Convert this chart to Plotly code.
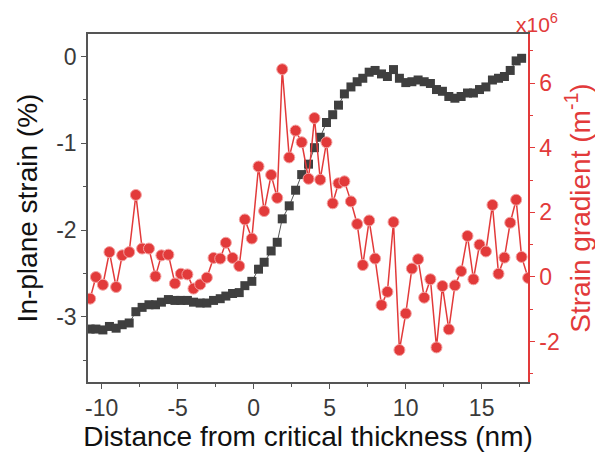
import plotly.graph_objects as go

# Distance from critical thickness (nm)
x_nm = [-10.76, -10.38, -9.92, -9.49, -9.05, -8.65, -8.19, -7.75, -7.34, -6.89,
        -6.46, -6.07, -5.61, -5.18, -4.79, -4.36, -3.96, -3.52, -3.08, -2.64,
        -2.20, -1.83, -1.39, -0.95, -0.58, -0.12, 0.32, 0.69, 1.15, 1.55,
        1.88, 2.34, 2.76, 3.16, 3.61, 4.00, 4.38, 4.79, 5.20, 5.58,
        5.97, 6.40, 6.81, 7.18, 7.60, 7.99, 8.41, 8.80, 9.20, 9.59,
        10.01, 10.41, 10.82, 11.22, 11.63, 12.03, 12.42, 12.84, 13.24, 13.65,
        14.07, 14.46, 14.86, 15.28, 15.71, 16.11, 16.50, 16.88, 17.27, 17.63,
        18.06]

# In-plane strain (%)
strain = [-3.14, -3.14, -3.15, -3.11, -3.13, -3.09, -3.07, -2.94, -2.89, -2.86,
          -2.86, -2.83, -2.80, -2.81, -2.81, -2.81, -2.83, -2.84, -2.84, -2.81,
          -2.79, -2.76, -2.73, -2.72, -2.64, -2.59, -2.45, -2.37, -2.24, -2.14,
          -1.87, -1.72, -1.54, -1.36, -1.24, -1.05, -0.93, -0.76, -0.67, -0.56,
          -0.43, -0.35, -0.29, -0.25, -0.18, -0.16, -0.20, -0.23, -0.15, -0.25,
          -0.30, -0.29, -0.27, -0.29, -0.31, -0.38, -0.40, -0.46, -0.48, -0.46,
          -0.42, -0.42, -0.38, -0.35, -0.27, -0.25, -0.23, -0.16, -0.05, -0.02]

# Strain gradient (x10^6 m^-1)
gradient = [-0.67, 0.00, -0.24, 0.77, -0.31, 0.67, 0.77, 2.54, 0.88, 0.88,
            0.02, 0.67, 0.69, -0.20, 0.10, 0.08, -0.36, -0.23, -0.02, 0.59,
            0.57, 1.06, 0.59, 0.34, 1.78, 1.19, 3.42, 2.04, 3.16, 2.45,
            6.43, 3.70, 4.53, 4.17, 3.04, 4.92, 3.01, 4.17, 2.28, 2.90,
            2.96, 2.34, 1.64, 0.37, 1.75, 0.57, -0.87, -0.46, 1.70, -2.26,
            -1.13, 0.26, 0.55, -0.64, -0.07, -2.18, -0.28, -1.62, -0.26, 0.18,
            1.27, -0.07, 1.00, 0.79, 2.23, 0.10, 0.60, 1.68, 2.39, 0.62,
            -0.03]

# tick values and labels
x_ticks = [-10, -5, 0, 5, 10, 15]
x_labels = ["-10", "-5", "0", "5", "10", "15"]
y_ticks = [-3, -2, -1, 0]
y_labels = ["-3", "-2", "-1", "0"]
y2_ticks = [-2, 0, 2, 4, 6]
y2_labels = ["-2", "0", "2", "4", "6"]

RED = "#e23a3a"
GRAY = "#3f3f3f"
AXG = "#555555"
TXT = "#3a3a3a"
FONT = "Liberation Sans, Arial, sans-serif"

fig = go.Figure()
fig.add_trace(go.Scatter(
    x=x_nm[:len(strain)], y=strain, mode="lines+markers",
    line=dict(color="#555555", width=1),
    marker=dict(symbol="square", size=9, color=GRAY, line=dict(width=0)),
    showlegend=False))
fig.add_trace(go.Scatter(
    x=x_nm, y=gradient, mode="lines+markers", yaxis="y2",
    line=dict(color=RED, width=1.5),
    marker=dict(symbol="circle", size=11, color=RED,
                line=dict(color="#f4a0a0", width=1)),
    showlegend=False))

# the page body adds an 8px offset at left/top, so the figure is 8px smaller
fig.update_layout(
    width=595, height=451,
    margin=dict(l=80, r=75, t=26, b=77),
    paper_bgcolor="white", plot_bgcolor="white",
    font=dict(family=FONT, size=23, color=TXT),
    xaxis=dict(
        range=[-10.9, 18.05], tickvals=x_ticks, ticktext=x_labels,
        ticks="outside", ticklen=5, tickwidth=1.2, tickcolor=AXG,
        minor=dict(dtick=2.5, tick0=0, ticks="outside", ticklen=3, tickcolor=AXG),
        showline=True, linecolor=AXG, linewidth=1.5, mirror=True,
        showgrid=False, zeroline=False, automargin=False,
        tickfont=dict(size=23, color=TXT),
        title=dict(text="Distance from critical thickness (nm)",
                   font=dict(size=28, color="#111111"), standoff=2),
    ),
    yaxis=dict(
        range=[-3.75, 0.26], tickvals=y_ticks, ticktext=y_labels,
        ticks="outside", ticklen=5, tickwidth=1.2, tickcolor=AXG,
        minor=dict(dtick=0.5, tick0=0, ticks="outside", ticklen=3, tickcolor=AXG),
        showline=True, linecolor=AXG, linewidth=1.5,
        showgrid=False, zeroline=False, automargin=False,
        tickfont=dict(size=23, color=TXT),
        title=dict(text="In-plane strain (%)",
                   font=dict(size=28, color="#111111"), standoff=10),
    ),
    yaxis2=dict(
        overlaying="y", side="right",
        range=[-3.25, 7.52], tickvals=y2_ticks, ticktext=y2_labels,
        ticks="outside", ticklen=5, tickwidth=1.2, tickcolor=RED,
        minor=dict(dtick=1, tick0=0, ticks="outside", ticklen=3, tickcolor=RED),
        showline=True, linecolor=RED, linewidth=1.5,
        showgrid=False, zeroline=False, automargin=False,
        tickfont=dict(size=23, color=RED),
        title=dict(text="Strain gradient (m<sup>-1</sup>)",
                   font=dict(size=28, color=RED), standoff=6),
    ),
    annotations=[dict(
        text="x10<sup>6</sup>", xref="paper", yref="paper",
        x=1.0, y=1.0, xanchor="left", yanchor="bottom", xshift=-14, yshift=-4,
        showarrow=False, font=dict(family=FONT, size=21, color=RED))],
)

fig.write_html("out.html")
